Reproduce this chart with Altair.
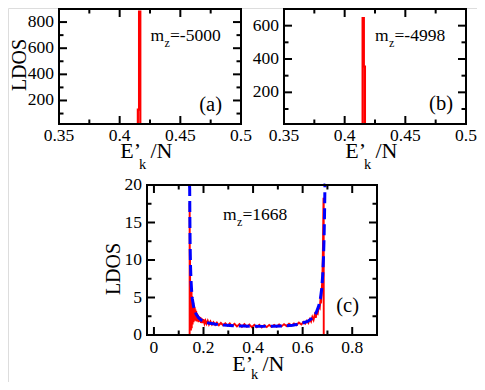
import altair as alt
import pandas as pd

FONT = "Liberation Serif"
RED = "#ff0000"
BLUE = "#0000ff"

# ---------------- data ----------------
# panel (a): histogram spike outline
a_x = [0.4150, 0.4150, 0.4160, 0.4160, 0.4170, 0.4170]
a_y = [0, 130, 130, 880, 880, 0]
# panel (b)
b_x = [0.4148, 0.4148, 0.4158, 0.4158, 0.4167, 0.4167]
b_y = [0, 645, 645, 355, 355, 0]

# panel (c): numerical LDOS (red, noisy)
c_red_x = [0.1440, 0.1441, 0.1448, 0.1455, 0.1462, 0.1470, 0.1478, 0.1486, 0.1494, 0.1502,
           0.1510, 0.1518, 0.1526, 0.1534, 0.1542, 0.1550, 0.1560, 0.1570, 0.1580, 0.1590,
           0.1600, 0.1615, 0.1630, 0.1645, 0.1660, 0.1675, 0.1690, 0.1705, 0.1720, 0.1740,
           0.1760, 0.1780, 0.1800, 0.1825, 0.1850, 0.1875, 0.1900, 0.1930, 0.1960, 0.2000,
           0.2040, 0.2080, 0.2120, 0.2170, 0.2220, 0.2280, 0.2340, 0.2400, 0.2470, 0.2540,
           0.2620, 0.2700, 0.2790, 0.2880, 0.2970, 0.3060, 0.3150, 0.3250, 0.3350, 0.3450,
           0.3550, 0.3650, 0.3750, 0.3850, 0.3950, 0.4050, 0.4150, 0.4250, 0.4350, 0.4450,
           0.4550, 0.4650, 0.4750, 0.4850, 0.4950, 0.5050, 0.5150, 0.5250, 0.5350, 0.5450,
           0.5550, 0.5650, 0.5750, 0.5850, 0.5950, 0.6030, 0.6100, 0.6170, 0.6230, 0.6290,
           0.6340, 0.6390, 0.6440, 0.6490, 0.6530, 0.6570, 0.6610, 0.6650, 0.6690, 0.6720,
           0.6750, 0.6770, 0.6790, 0.6805, 0.6820, 0.6832, 0.6842, 0.6850, 0.6851]
c_red_y = [0.0, 17.6, 8.5, 11.0, 4.0, 7.2, 1.2, 6.4, 0.6, 5.6,
           1.8, 6.0, 0.9, 5.2, 2.4, 4.8, 1.4, 4.6, 2.0, 4.3,
           1.7, 4.0, 2.2, 3.7, 1.9, 3.4, 2.1, 3.2, 1.8, 2.9,
           1.9, 2.7, 1.7, 2.5, 1.8, 2.4, 1.6, 2.2, 1.6, 2.1,
           1.5, 1.9, 1.5, 1.9, 1.4, 1.8, 1.4, 1.7, 1.35, 1.65,
           1.3, 1.6, 1.3, 1.55, 1.25, 1.55, 1.2, 1.5, 1.15, 1.45,
           1.1, 1.45, 1.1, 1.4, 1.05, 1.35, 1.05, 1.35, 1.0, 1.3,
           1.05, 1.35, 1.1, 1.35, 1.1, 1.4, 1.15, 1.45, 1.2, 1.5,
           1.25, 1.55, 1.3, 1.65, 1.4, 1.75, 1.5, 1.9, 1.6, 2.1,
           1.8, 2.4, 2.0, 2.7, 2.3, 3.1, 2.9, 3.8, 3.6, 4.8,
           4.6, 6.0, 7.2, 9.0, 12.0, 15.5, 18.3, 18.0, 0.0]

# panel (c): analytic LDOS (blue, dashed)
c_blue_x = [0.1436, 0.1442, 0.1450, 0.1460, 0.1475, 0.1495, 0.1520, 0.1550, 0.1600, 0.1650,
            0.1700, 0.1800, 0.1900, 0.2000, 0.2200, 0.2500, 0.2800, 0.3200, 0.3600, 0.4000,
            0.4400, 0.4800, 0.5200, 0.5600, 0.5900, 0.6200, 0.6400, 0.6550, 0.6650, 0.6720,
            0.6770, 0.6810, 0.6840, 0.6865, 0.6885, 0.6900, 0.6915]
c_blue_y = [24, 19.5, 15.5, 12.0, 9.3, 7.4, 5.9, 4.8, 3.8, 3.2,
            2.8, 2.3, 2.0, 1.8, 1.6, 1.42, 1.32, 1.24, 1.19, 1.16,
            1.15, 1.16, 1.2, 1.3, 1.5, 1.8, 2.3, 3.0, 3.9, 4.9,
            6.2, 8.0, 10.2, 13.0, 16.5, 20.0, 25.0]

# axes: domains and tick values
a_xdom, a_ydom = [0.35, 0.5], [20, 900]
b_xdom, b_ydom = [0.35, 0.5], [10, 700]
c_xdom, c_ydom = [-0.028, 0.9], [0, 20]
ab_xmaj = [0.35, 0.4, 0.45, 0.5]
ab_xmin = [0.375, 0.425, 0.475]
a_ymaj = [200, 400, 600, 800]
a_ymin = [100, 300, 500, 700]
b_ymaj = [200, 400, 600]
b_ymin = [100, 300, 500]
c_xmaj = [0, 0.2, 0.4, 0.6, 0.8]
c_xmin = [0.1, 0.3, 0.5, 0.7]
c_ymaj = [0, 5, 10, 15, 20]
c_ymin = [2.5, 7.5, 12.5, 17.5]

mz_a, mz_b, mz_c = "=-5000", "=-4998", "=1668"

# ---------------- layout (pixel placement of the three panels) ----------------
W, H = 469, 374
PAN = {
    "a": dict(x0=51, x1=233, yb=116, yt=1, xdom=a_xdom, ydom=a_ydom),
    "b": dict(x0=276, x1=458, yb=116, yt=1, xdom=b_xdom, ydom=b_ydom),
    "c": dict(x0=139, x1=369, yb=327, yt=177, xdom=c_xdom, ydom=c_ydom),
}
LBL = 17.5


def scales(p):
    sx = alt.Scale(domain=p["xdom"], range=[p["x0"], p["x1"]], nice=False, zero=False, clamp=True)
    sy = alt.Scale(domain=p["ydom"], range=[p["yb"], p["yt"]], nice=False, zero=False, clamp=True)
    return sx, sy


def text(txt, x, y, size, align="left", angle=0):
    kw = dict(font=FONT, fontSize=size, align=align, baseline="alphabetic", color="black")
    if angle:
        kw["angle"] = angle
    return alt.Chart(pd.DataFrame({"t": [txt]})).mark_text(**kw).encode(
        text="t:N", x=alt.value(x), y=alt.value(y))


def frame_and_ticks(p, xmaj, xmin, ymaj, ymin, xfmt, ybase):
    sx, sy = scales(p)
    out = []
    one = pd.DataFrame({"k": [0]})
    out.append(alt.Chart(one).mark_rect(fillOpacity=0, stroke="black", strokeWidth=2).encode(
        x=alt.X(datum=p["xdom"][0], scale=sx, axis=None), x2=alt.datum(p["xdom"][1]),
        y=alt.Y(datum=p["ydom"][0], scale=sy, axis=None), y2=alt.datum(p["ydom"][1])))
    for vals, ln in ((xmaj, 8), (xmin, 4.5)):
        df = pd.DataFrame({"v": vals})
        X = alt.X("v:Q", scale=sx, axis=None)
        out.append(alt.Chart(df).mark_rule(color="black", strokeWidth=2).encode(
            x=X, y=alt.value(p["yb"]), y2=alt.value(p["yb"] - ln)))
        out.append(alt.Chart(df).mark_rule(color="black", strokeWidth=2).encode(
            x=X, y=alt.value(p["yt"]), y2=alt.value(p["yt"] + ln)))
    for vals, ln in ((ymaj, 8), (ymin, 4.5)):
        df = pd.DataFrame({"v": vals})
        Y = alt.Y("v:Q", scale=sy, axis=None)
        out.append(alt.Chart(df).mark_rule(color="black", strokeWidth=2).encode(
            y=Y, x=alt.value(p["x0"]), x2=alt.value(p["x0"] + ln)))
        out.append(alt.Chart(df).mark_rule(color="black", strokeWidth=2).encode(
            y=Y, x=alt.value(p["x1"]), x2=alt.value(p["x1"] - ln)))
    # tick labels
    out.append(alt.Chart(pd.DataFrame({"v": xmaj})).mark_text(
        font=FONT, fontSize=LBL, align="center", baseline="alphabetic", color="black").encode(
        x=alt.X("v:Q", scale=sx, axis=None), y=alt.value(ybase),
        text=alt.Text("v:Q", format=xfmt)))
    out.append(alt.Chart(pd.DataFrame({"v": ymaj})).mark_text(
        font=FONT, fontSize=LBL, align="right", baseline="middle", color="black").encode(
        y=alt.Y("v:Q", scale=sy, axis=None), x=alt.value(p["x0"] - 5),
        text=alt.Text("v:Q", format="d")))
    return out


def line(p, xs, ys, color, width, dash=None, ordered=True):
    sx, sy = scales(p)
    df = pd.DataFrame({"x": xs, "y": ys, "o": list(range(len(xs)))})
    kw = dict(color=color, strokeWidth=width)
    if dash:
        kw["strokeDash"] = dash
    enc = dict(x=alt.X("x:Q", scale=sx, axis=None), y=alt.Y("y:Q", scale=sy, axis=None))
    if ordered:
        enc["order"] = "o:Q"
    return alt.Chart(df).mark_line(**kw).encode(**enc)


def xtitle(cx, base, subbase):
    return [text("E\u2019", cx - 9, base, 22, align="right"),
            text("k", cx - 11, subbase, 14.5),
            text("/N", cx + 0.5, base, 22)]


def mz(x0, base, rest):
    return [text("m", x0, base, 17.5),
            text("z", x0 + 14, base + 6, 12),
            text(rest, x0 + 19.5, base, 17.5)]


layers = []
# panel (a)
pa = PAN["a"]
layers.append(line(pa, a_x, a_y, RED, 2.2))
layers += frame_and_ticks(pa, ab_xmaj, ab_xmin, a_ymaj, a_ymin, "~g", 133)
layers += mz(142.5, 32.5, mz_a)
layers.append(text("(a)", 214, 102.5, 20.5, align="right"))
layers += xtitle(142, 150, 161)
layers.append(text("LDOS", 17.5, 57, 20, align="center", angle=270))

# panel (b)
pb = PAN["b"]
layers.append(line(pb, b_x, b_y, RED, 2.2))
layers += frame_and_ticks(pb, ab_xmaj, ab_xmin, b_ymaj, b_ymin, "~g", 133)
layers += mz(367, 32.5, mz_b)
layers.append(text("(b)", 445, 102, 20.5, align="right"))
layers += xtitle(367, 150, 161)

# panel (c)
pc = PAN["c"]
layers.append(line(pc, c_red_x, c_red_y, RED, 1.9))
layers.append(line(pc, c_blue_x, c_blue_y, BLUE, 3, dash=[11, 5], ordered=False))
layers += frame_and_ticks(pc, c_xmaj, c_xmin, c_ymaj, c_ymin, "~g", 344.5)
layers += mz(215, 212, mz_c)
layers.append(text("(c)", 351, 303.5, 20.5, align="right"))
layers += xtitle(254, 363, 371)
layers.append(text("LDOS", 112, 261, 20, align="center", angle=270))

chart = alt.layer(*layers).resolve_scale(x="independent", y="independent").properties(
    width=W, height=H, padding=0,
    autosize=alt.AutoSizeParams(type="none")).configure_view(stroke=None).configure(
    background="white")

chart.save("out.html", embed_options={"renderer": "svg", "actions": False})
